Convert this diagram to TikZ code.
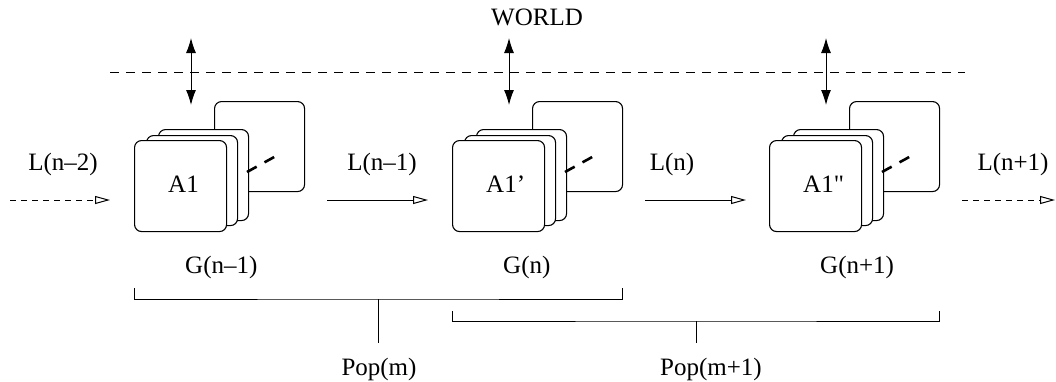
\documentclass[tikz,border=0pt]{standalone}
\usepackage{fontspec}
\setmainfont{Liberation Serif}
\newfontfamily\qfont{Liberation Serif}
\usetikzlibrary{arrows.meta}
\begin{document}
\begin{tikzpicture}[x=1pt,y=-1pt,
  card/.style={draw,fill=white,line width=1.1pt,rounded corners=7pt},
  lbl/.style={font=\fontsize{25}{30}\selectfont,inner sep=0pt},
  flow/.style={line width=1pt,-{Triangle[open,length=15pt,width=8pt]}},
  dflow/.style={flow,dash pattern=on 6pt off 5pt},
  io/.style={line width=1pt,{Latex[length=15pt,width=10pt]}-{Latex[length=15pt,width=10pt]}},
  link/.style={line width=2.6pt,dash pattern=on 11pt off 9pt},
  brk/.style={line width=1pt}]
\useasboundingbox (0,0) rectangle (1056,381);
\draw[line width=1pt,dash pattern=on 9pt off 7pt] (110,72) coordinate (wl) -- (965,72) coordinate (wr);
\node[lbl] (world) at (537,17) {WORLD};
\foreach \dx/\nm/\txt/\g in {0/a/A1/G(n–1), 318/b/A1’/G(n), 635/c/{\qfont A1"}/G(n+1)}{
  \node[card,minimum width=90pt,minimum height=90pt,anchor=north west] (\nm back) at (214+\dx,101) {};
  \node[card,minimum width=90pt,minimum height=91pt,anchor=north west] (\nm three) at (158+\dx,129) {};
  \node[card,minimum width=91pt,minimum height=90pt,anchor=north west] (\nm two) at (146+\dx,135) {};
  \node[card,minimum width=92pt,minimum height=91pt,anchor=north west] (\nm one) at (134+\dx,140) {};
  \node[lbl,anchor=base west] (\nm txt) at (168+\dx,192) {\txt};
  \node[lbl,anchor=base west] (\nm g) at (185+\dx,273) {\g};
  \coordinate (\nm ls) at (247+\dx,172);
  \coordinate (\nm le) at (276+\dx,156);
  \draw[link] (\nm ls) -- (\nm le);
  \coordinate (\nm up) at (191+\dx,38);
  \coordinate (\nm dn) at (191+\dx,105);
  \draw[io] (\nm up) -- (\nm dn);
}
% flows
\coordinate (f0s) at (10,200); \coordinate (f0e) at (110,200);
\coordinate (f1s) at (327,200); \coordinate (f1e) at (428,200);
\coordinate (f2s) at (645,200); \coordinate (f2e) at (746,200);
\coordinate (f3s) at (962,200); \coordinate (f3e) at (1055,200);
\draw[dflow] (f0s) -- (f0e);
\draw[flow] (f1s) -- (f1e);
\draw[flow] (f2s) -- (f2e);
\draw[dflow] (f3s) -- (f3e);
\node[lbl,anchor=base] (l0) at (63,170) {L(n–2)};
\node[lbl,anchor=base] (l1) at (382,170) {L(n–1)};
\node[lbl,anchor=base] (l2) at (672,170) {L(n)};
\node[lbl,anchor=base] (l3) at (1013,170) {L(n+1)};
% brackets
\coordinate (b1a) at (134,288); \coordinate (b1b) at (622,288);
\coordinate (b1m) at (378,299); \coordinate (b1s) at (378,343);
\draw[brk] (b1a) |- (b1m) -| (b1b);
\draw[brk] (b1m) -- (b1s);
\node[lbl,anchor=base] (pm) at (379,375) {Pop(m)};
\coordinate (b2a) at (452,311); \coordinate (b2b) at (939,311);
\coordinate (b2m) at (696,321); \coordinate (b2s) at (696,343);
\draw[brk] (b2a) |- (b2m) -| (b2b);
\draw[brk] (b2m) -- (b2s);
\node[lbl,anchor=base] (pm1) at (711,375) {Pop(m+1)};
\end{tikzpicture}
\end{document}
